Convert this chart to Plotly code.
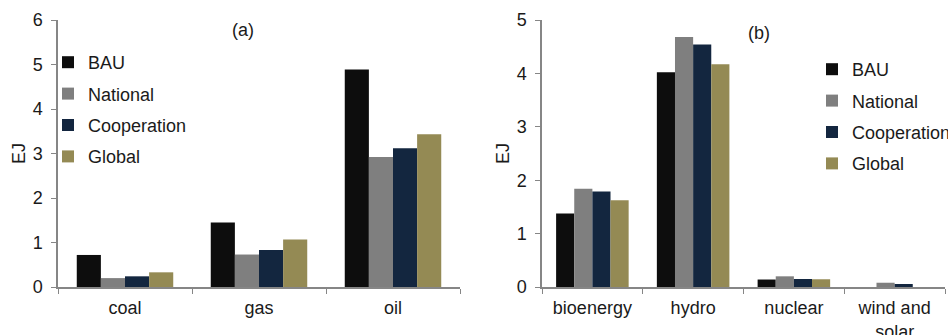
import plotly.graph_objects as go

scenarios = ["BAU", "National", "Cooperation", "Global"]
colors = ["#0d0d0d", "#7f7f7f", "#13263f", "#948a54"]

fossil_cats = ["coal", "gas", "oil"]
fossil_vals = {
    "BAU": [0.72, 1.45, 4.89],
    "National": [0.20, 0.73, 2.92],
    "Cooperation": [0.24, 0.83, 3.12],
    "Global": [0.33, 1.065, 3.43],
}

nonfossil_cats = ["bioenergy", "hydro", "nuclear", "wind and<br>solar"]
nonfossil_vals = {
    "BAU": [1.375, 4.02, 0.14, 0.0],
    "National": [1.84, 4.68, 0.20, 0.08],
    "Cooperation": [1.79, 4.54, 0.15, 0.056],
    "Global": [1.625, 4.17, 0.145, 0.0],
}

W, H = 948, 335
FONT = "Liberation Sans, Arial, sans-serif"
TXT = "#1a1a1a"
AX = "#868686"
FS = 18

fig = go.Figure()
for s, c in zip(scenarios, colors):
    fig.add_trace(go.Bar(
        x=fossil_cats, y=fossil_vals[s], name=s, marker_color=c,
        marker_line_width=0, xaxis="x", yaxis="y", legend="legend",
        legendgroup="a" + s,
    ))
for s, c in zip(scenarios, colors):
    fig.add_trace(go.Bar(
        x=nonfossil_cats, y=nonfossil_vals[s], name=s, marker_color=c,
        marker_line_width=0, xaxis="x2", yaxis="y2", legend="legend2",
        legendgroup="b" + s,
    ))

ydom = [(H - 287) / H, (H - 20) / H]

axis_common = dict(
    showline=True, linecolor=AX, linewidth=1.5, showgrid=False, zeroline=False,
    ticks="outside", tickcolor=AX, ticklen=5, tickwidth=1, automargin=False,
    tickfont=dict(size=FS, color=TXT, family=FONT),
)

legend_common = dict(
    font=dict(size=FS, color=TXT, family=FONT),
    bgcolor="rgba(0,0,0,0)", traceorder="grouped", tracegroupgap=5,
    itemwidth=30, xanchor="left", yanchor="top",
)

fig.update_layout(
    width=W, height=H,
    margin=dict(l=0, r=0, t=0, b=0, autoexpand=False),
    paper_bgcolor="white", plot_bgcolor="white",
    barmode="group", bargap=0.28, bargroupgap=0,
    font=dict(family=FONT, size=FS, color=TXT),
    xaxis=dict(domain=[58 / W, 460 / W], anchor="y", tickson="boundaries",
               ticklabelstandoff=4, **axis_common),
    yaxis=dict(domain=ydom, anchor="x", range=[0, 6], dtick=1, ticklabelstandoff=5,
               title=dict(text="EJ", font=dict(size=FS, color=TXT), standoff=2), **axis_common),
    xaxis2=dict(domain=[542 / W, 945 / W], anchor="y2", tickson="boundaries",
                ticklabelstandoff=4, **axis_common),
    yaxis2=dict(domain=ydom, anchor="x2", range=[0, 5], dtick=1, ticklabelstandoff=5,
                title=dict(text="EJ", font=dict(size=FS, color=TXT), standoff=2), **axis_common),
    legend=dict(x=48 / W, y=1 - 44 / H, **legend_common),
    legend2=dict(x=812 / W, y=1 - 51 / H, **legend_common),
    showlegend=True,
    annotations=[
        dict(text="(a)", x=243 / W, y=1 - 30 / H, xref="paper", yref="paper",
             xanchor="center", yanchor="middle",
             showarrow=False, font=dict(size=FS, color=TXT)),
        dict(text="(b)", x=759 / W, y=1 - 33 / H, xref="paper", yref="paper",
             xanchor="center", yanchor="middle",
             showarrow=False, font=dict(size=FS, color=TXT)),
    ],
)

fig.write_html("out.html")
